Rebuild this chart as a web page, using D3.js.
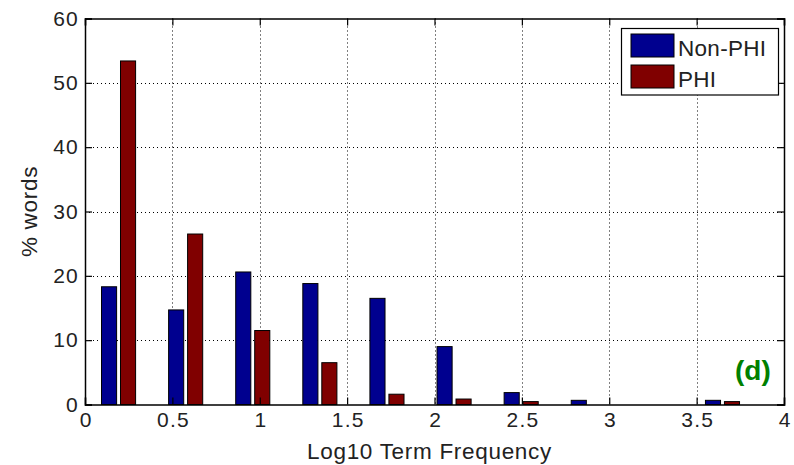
<!DOCTYPE html>
<html>
<head>
<meta charset="utf-8">
<script src="https://cdn.jsdelivr.net/npm/d3@7"></script>
<style>
  html, body { margin: 0; padding: 0; background: #fff; }
  svg { display: block; font-family: "Liberation Sans", Arial, Helvetica, sans-serif; }
</style>
</head>
<body>
<svg id="chart" width="794" height="465"></svg>
<script>
// Histogram bin centres (log10 of term frequency)
const binCenters = [0.192, 0.576, 0.960, 1.344, 1.728, 2.112, 2.496, 2.880, 3.264, 3.648];
// Percentage of words falling in each bin
const nonPhi = [18.3, 14.7, 20.6, 18.8, 16.5, 9.0, 1.85, 0.65, 0, 0.65];
const phi    = [53.4, 26.5, 11.5, 6.5, 1.6, 0.85, 0.45, 0, 0, 0.45];
const seriesNames = ["Non-PHI", "PHI"];
const seriesColors = ["#00008f", "#800000"];
const xTicks = [0, 0.5, 1, 1.5, 2, 2.5, 3, 3.5, 4];
const xTickLabels = ["0", "0.5", "1", "1.5", "2", "2.5", "3", "3.5", "4"];
const yTicks = [0, 10, 20, 30, 40, 50, 60];

const svg = d3.select("#chart");
const margin = { left: 85, right: 10, top: 18.5, bottom: 60.5 };
const W = 794, H = 465;
const x = d3.scaleLinear().domain([0, 4]).range([margin.left, W - margin.right]);
const y = d3.scaleLinear().domain([0, 60]).range([H - margin.bottom, margin.top]);

const x0 = x.range()[0], x1 = x.range()[1];
const y0 = y.range()[0], y1 = y.range()[1];

// dotted grid
const grid = svg.append("g").attr("stroke", "#000").attr("stroke-width", 1)
  .attr("stroke-dasharray", "1,3");
grid.selectAll("line.gx").data(xTicks.filter(t => t > 0 && t < 4)).join("line")
  .attr("x1", d => Math.round(x(d)) + 0.5).attr("x2", d => Math.round(x(d)) + 0.5)
  .attr("y1", y1).attr("y2", y0);
grid.selectAll("line.gy").data(yTicks.filter(t => t > 0 && t < 60)).join("line")
  .attr("y1", d => Math.round(y(d)) + 0.5).attr("y2", d => Math.round(y(d)) + 0.5)
  .attr("x1", x0).attr("x2", x1);

// grouped bars
const step = x(binCenters[1]) - x(binCenters[0]);
const barW = step * 0.225;
const gap = step * 0.058;
const series = [nonPhi, phi];
series.forEach((vals, si) => {
  const off = si === 0 ? -(barW / 2 + gap / 2) : (barW / 2 + gap / 2);
  svg.append("g").selectAll("rect").data(vals).join("rect")
    .attr("x", (d, i) => x(binCenters[i]) + off - barW / 2)
    .attr("width", barW)
    .attr("y", d => y(d))
    .attr("height", d => y(0) - y(d))
    .attr("fill", seriesColors[si])
    .attr("stroke", "#000")
    .attr("stroke-width", 1);
});

// axes: ticks point inward on all four sides
const axB = svg.append("g").attr("transform", `translate(0,${y0})`)
  .call(d3.axisBottom(x).tickValues(xTicks).tickFormat((d, i) => xTickLabels[i]).tickSize(-7).tickPadding(8));
const axL = svg.append("g").attr("transform", `translate(${x0},0)`)
  .call(d3.axisLeft(y).tickValues(yTicks).tickSize(-7).tickPadding(6));
const axT = svg.append("g").attr("transform", `translate(0,${y1})`)
  .call(d3.axisTop(x).tickValues(xTicks).tickFormat("").tickSize(-7));
const axR = svg.append("g").attr("transform", `translate(${x1},0)`)
  .call(d3.axisRight(y).tickValues(yTicks).tickFormat("").tickSize(-7));
[axB, axL, axT, axR].forEach(a => {
  a.select(".domain").attr("stroke", "#000").attr("stroke-width", 1.5);
  a.selectAll(".tick line").attr("stroke", "#000").attr("stroke-width", 1.2);
  a.selectAll("text").attr("font-size", "21px").attr("fill", "#222")
    .attr("letter-spacing", "1.2px")
    .attr("font-family", "'Liberation Sans', Arial, sans-serif");
});
// keep the x tick labels centred despite letter spacing
axB.selectAll(".tick text").attr("dx", "0.6px");

// axis titles
svg.append("text").attr("x", (x0 + x1) / 2 - 5).attr("y", 459)
  .attr("text-anchor", "middle").attr("font-size", "22.5px").attr("letter-spacing", "0.7px")
  .attr("fill", "#222")
  .text("Log10 Term Frequency");
svg.append("text").attr("transform", "translate(37,211.5) rotate(-90)")
  .attr("text-anchor", "middle").attr("font-size", "22.5px").attr("letter-spacing", "0.7px")
  .attr("fill", "#222")
  .text("% words");

// panel tag
svg.append("text").attr("x", 735).attr("y", 380)
  .attr("font-size", "28px").attr("font-weight", "bold").attr("fill", "#008000")
  .text("(d)");

// legend
const lg = svg.append("g");
lg.append("rect").attr("x", 621.5).attr("y", 28.5).attr("width", 157).attr("height", 66.5)
  .attr("fill", "#fff").attr("stroke", "#000").attr("stroke-width", 1.2);
seriesNames.forEach((name, i) => {
  lg.append("rect").attr("x", 631).attr("y", 34 + i * 31).attr("width", 43).attr("height", 23)
    .attr("fill", seriesColors[i]).attr("stroke", "#000").attr("stroke-width", 1);
  lg.append("text").attr("x", 678).attr("y", 55.5 + i * 31)
    .attr("font-size", "22.5px").attr("letter-spacing", "0.3px")
    .attr("fill", "#222").text(name);
});
</script>
</body>
</html>
